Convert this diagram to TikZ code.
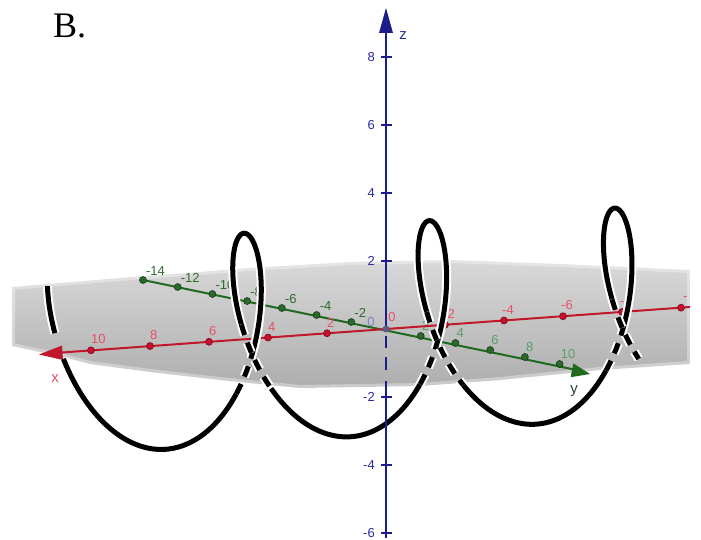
\documentclass[tikz,border=0pt]{standalone}
\usepackage{fontspec}
\setmainfont{Liberation Serif}
\newfontfamily\labfont{Liberation Sans}
\definecolor{xline}{HTML}{C0182A}
\definecolor{xlab}{HTML}{E8506A}
\definecolor{xdot}{HTML}{C8102E}
\definecolor{yline}{HTML}{1F6A1F}
\definecolor{ydot}{HTML}{2A6A2A}
\definecolor{ylabn}{HTML}{2D6B2D}
\definecolor{ylabp}{HTML}{5A9E6A}
\definecolor{zcol}{HTML}{1C1C8C}
\definecolor{zlab}{HTML}{2A2AA0}
\newcommand\curveseg[3]{%
  \draw[halo,#3] plot[domain=#1:#2,samples=60,variable=\t]({cx(\t)},{cy(\t)});
  \draw[curvest,#3] plot[domain=#1:#2,samples=60,variable=\t]({cx(\t)},{cy(\t)});}
\begin{document}
\begin{tikzpicture}[x=1pt,y=-1pt,
  declare function={cx(\t)=247+29.5*\t-52*sin(\t r); cy(\t)=338.4-2*\t-10.8*sin(\t r)-104.4*cos(\t r);},
  halo/.style={white,line width=9pt},
  curvest/.style={black,line width=5pt},
  hid/.style={dash pattern=on 11pt off 8pt},
  xdotst/.style={circle,fill=xdot,draw=xdot!60!black,line width=0.6pt,inner sep=0pt,minimum size=7pt},
  ydotst/.style={circle,fill=ydot,draw=ydot!55!black,line width=0.6pt,inner sep=0pt,minimum size=7pt},
  xlabst/.style={text=xlab,font=\labfont\fontsize{13}{13}\selectfont,inner sep=0pt,anchor=south west},
  ylabnst/.style={text=ylabn,font=\labfont\fontsize{13}{13}\selectfont,inner sep=0pt,anchor=south west},
  ylabpst/.style={text=ylabp,font=\labfont\fontsize{13}{13}\selectfont,inner sep=0pt,anchor=south west},
  zlabst/.style={text=zlab,font=\labfont\fontsize{13}{13}\selectfont,inner sep=0pt,anchor=east},
  axlab/.style={font=\labfont\fontsize{15}{15}\selectfont,inner sep=0pt}
]
\useasboundingbox (0,0) rectangle (701,540);
\fill[white] (0,0) rectangle (701,540);
% plane
\shade[top color=black!15,bottom color=black!32]
  (12,287) -- (120,278) -- (250,268) -- (350,262) -- (450,260) -- (560,264) -- (690,270)
  -- (690,364) -- (600,370) -- (500,380) -- (420,386) -- (300,388) -- (220,380) -- (150,372)
  -- (90,364) -- (60,356) -- (40,352) -- (12,346) -- cycle;
\draw[white,line width=6pt,opacity=.35,line join=round]
  (12,287) -- (120,278) -- (250,268) -- (350,262) -- (450,260) -- (560,264) -- (690,270)
  -- (690,364) -- (600,370) -- (500,380) -- (420,386) -- (300,388) -- (220,380) -- (150,372)
  -- (90,364) -- (60,356) -- (40,352) -- (12,346) -- cycle;
% y axis
\coordinate (ystart) at ({386-17.36*14},{329-3.5*14});
\coordinate (yend) at (574,369.5);
\draw[yline,line width=2pt] (ystart) -- (yend);
\fill[yline] (590,374) -- (573.4,363.4) -- (570.6,377.2) -- cycle;
\foreach \k in {-14,-12,-10,-8,-6,-4,-2,2,4,6,8,10}
  \node[ydotst] (yd\k) at ({386+17.36*\k},{329+3.5*\k}) {};
\foreach \k/\n in {-14/a,-12/b,-10/c,-8/d,-6/e,-4/f,-2/g}
  \node[ylabnst] (yl\n) at ({386+17.36*\k+3},{329+3.5*\k-4}) {\k};
\foreach \k in {2,4,6,8,10}
  \node[ylabpst] (ylp\k) at ({386+17.36*\k+1},{329+3.5*\k-5}) {\k};
\node[axlab,text=black!55!ylabp] (ylab) at (574,391) {y};
% x axis
\coordinate (xstart) at (62,352.5);
\coordinate (xend) at (690,307);
\draw[xline,line width=2pt] (xstart) -- (xend);
\fill[xline] (39,354.5) -- (62,345.5) -- (63,360) -- cycle;
\foreach \k in {10,8,6,4,2,-2,-4,-6,-8,-10}
  \node[xdotst] (xd\k) at ({386-29.5*\k},{329+2.13*\k}) {};
\foreach \k in {10,8,6,4,2}
  \node[xlabst] (xl\k) at ({386-29.5*\k},{329+2.13*\k-6}) {\k};
\foreach \k/\n in {-2/a,-4/b,-6/c,-8/d}
  \node[xlabst] (xln\n) at ({386-29.5*\k-2},{329+2.13*\k-6}) {\k};
\node[xlabst] (xlne) at (683,301) {-};
\node[axlab,text=xlab] (xlab) at (55,379) {x};
% origin labels
\node[font=\labfont\fontsize{13}{13}\selectfont,text=zlab!60,inner sep=0pt] (o1) at (371,322) {0};
\node[font=\labfont\fontsize{13}{13}\selectfont,text=xlab,inner sep=0pt] (o2) at (392,317) {0};
% curve
\curveseg{-5.25}{-4.75}{}
\curveseg{-4.5}{-1.98}{}
\curveseg{-1.98}{-1.5708}{hid}
\curveseg{-1.5708}{1.5708}{}
\curveseg{1.5708}{2.22}{hid}
\curveseg{2.22}{4.27}{}
\curveseg{4.27}{4.7124}{hid}
\curveseg{4.7124}{7.854}{}
\curveseg{7.854}{8.6132}{hid}
\curveseg{8.6132}{10.5664}{}
\curveseg{10.5664}{10.9956}{hid}
\curveseg{10.9956}{14.1372}{}
\curveseg{14.1372}{14.7364}{hid}
% z axis
\coordinate (ztop) at (386,30);
\coordinate (zo) at (386,329);
\coordinate (zbot) at (386,538);
\draw[zcol,line width=2.2pt] (ztop) -- (zo);
\draw[zcol,line width=2.2pt] (386,336) -- (386,348) (386,357) -- (386,370);
\draw[zcol,line width=2.2pt] (386,381) -- (zbot);
\fill[zcol] (386,8) -- (379,33) -- (393,33) -- cycle;
\foreach \k in {8,6,4,2,-2,-4,-6}{
  \draw[zcol,line width=2pt] (381,{329-34*\k}) -- (392,{329-34*\k});
  \node[zlabst] (zl\k) at (375,{329-34*\k}) {\k};}
\node[axlab,text=zlab] (zlab) at (403,36) {z};
\fill[black!50!zlab!70!white] (zo) circle (3.5pt);
% title
\node[anchor=base west,inner sep=0pt,font=\fontsize{36}{40}\selectfont] (title) at (53,38) {B.};
\end{tikzpicture}
\end{document}
